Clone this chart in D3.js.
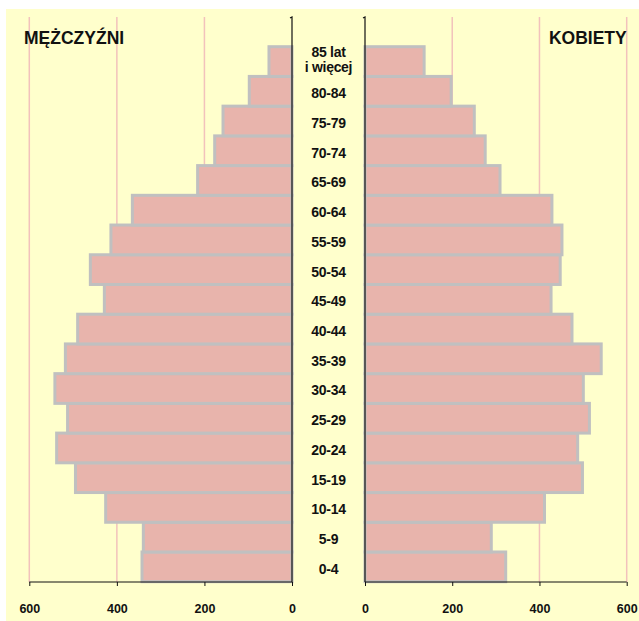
<!DOCTYPE html>
<html>
<head>
<meta charset="utf-8">
<script src="https://cdn.jsdelivr.net/npm/d3@7"></script>
<style>
  body { margin: 0; background: #fff; }
  text { font-family: "Liberation Sans", Arial, sans-serif; font-weight: bold; fill: #111; }
</style>
</head>
<body>
<script>
// age groups, youngest first
var ageGroups = ["0-4", "5-9", "10-14", "15-19", "20-24", "25-29", "30-34", "35-39", "40-44",
                 "45-49", "50-54", "55-59", "60-64", "65-69", "70-74", "75-79", "80-84", "85+"];
var men   = [346, 343, 429, 498, 541, 516, 545, 521, 493, 432, 464, 417, 368, 219, 180, 161, 101, 56];
var women = [326, 293, 415, 502, 491, 518, 504, 545, 478, 430, 451, 455, 432, 313, 279, 254, 201, 139];
var tickValues = [0, 200, 400, 600];
var oldestLabel = ["85 lat", "i więcej"];

var width = 639, height = 621;
var barStroke = 3;

var svg = d3.select("body").append("svg")
    .attr("width", width)
    .attr("height", height);

// yellow panel
svg.append("rect")
    .attr("x", 6).attr("y", 9)
    .attr("width", width - 6).attr("height", height - 9)
    .attr("fill", "#FFFFCC");

var xL = d3.scaleLinear().domain([0, 600]).range([292, 29.3]);
var xR = d3.scaleLinear().domain([0, 600]).range([365, 626.7]);
var y = d3.scaleBand()
    .domain(ageGroups.slice().reverse())
    .range([46.7, 581.7])
    .padding(0);

var axisTop = 17, axisY = 582;

// gridlines
var grid = svg.append("g");
grid.selectAll("line.gl")
    .data(tickValues.filter(function (d) { return d > 0; }))
  .enter().append("line")
    .attr("x1", function (d) { return xL(d); })
    .attr("x2", function (d) { return xL(d); })
    .attr("y1", axisTop).attr("y2", axisY)
    .attr("stroke", "#F2C2BC").attr("stroke-width", 1.5);
grid.selectAll("line.gr")
    .data(tickValues.filter(function (d) { return d > 0; }))
  .enter().append("line")
    .attr("x1", function (d) { return xR(d); })
    .attr("x2", function (d) { return xR(d); })
    .attr("y1", axisTop).attr("y2", axisY)
    .attr("stroke", "#F2C2BC").attr("stroke-width", 1.5);

// bars
var bars = svg.append("g");
bars.selectAll("rect.men")
    .data(ageGroups)
  .enter().append("rect")
    .attr("x", function (d, i) { return xL(men[i]) + barStroke / 2; })
    .attr("y", function (d) { return y(d); })
    .attr("width", function (d, i) { return xL(0) - xL(men[i]) - barStroke / 2; })
    .attr("height", y.bandwidth())
    .attr("fill", "#E8B4AC")
    .attr("stroke", "#C0C0C0")
    .attr("stroke-width", barStroke);
bars.selectAll("rect.women")
    .data(ageGroups)
  .enter().append("rect")
    .attr("x", xR(0))
    .attr("y", function (d) { return y(d); })
    .attr("width", function (d, i) { return xR(women[i]) - xR(0) - barStroke / 2; })
    .attr("height", y.bandwidth())
    .attr("fill", "#E8B4AC")
    .attr("stroke", "#C0C0C0")
    .attr("stroke-width", barStroke);

// axes
var axisL = d3.axisBottom(xL).tickValues(tickValues).tickSize(4).tickPadding(18);
var axisR = d3.axisBottom(xR).tickValues(tickValues).tickSize(4).tickPadding(18);
[axisL, axisR].forEach(function (ax) {
  var g = svg.append("g")
      .attr("transform", "translate(0," + axisY + ")")
      .call(ax);
  g.select(".domain").attr("stroke", "#111").attr("d", null);
  g.selectAll(".tick line").attr("stroke", "#111");
  g.selectAll(".tick text")
      .attr("font-size", 12.5)
      .attr("font-family", "Liberation Sans, Arial, sans-serif")
      .attr("font-weight", "bold")
      .attr("fill", "#111");
});
// baseline of each half
svg.append("line").attr("x1", xL(600)).attr("x2", xL(0))
    .attr("y1", axisY).attr("y2", axisY).attr("stroke", "#111");
svg.append("line").attr("x1", xR(0)).attr("x2", xR(600))
    .attr("y1", axisY).attr("y2", axisY).attr("stroke", "#111");
// vertical axis lines
[xL(0), xR(0)].forEach(function (x) {
  svg.append("path")
      .attr("d", "M" + (x - 2) + "," + (axisTop + 1) + "L" + x + "," + axisTop + "L" + x + "," + axisY)
      .attr("fill", "none").attr("stroke", "#111").attr("stroke-width", 1.2);
});

// category labels
var labelX = (xL(0) + xR(0)) / 2;
svg.append("g").selectAll("text")
    .data(ageGroups.filter(function (d) { return d !== "85+"; }))
  .enter().append("text")
    .attr("x", labelX)
    .attr("y", function (d) { return y(d) + y.bandwidth() / 2 + 2; })
    .attr("dy", "0.35em")
    .attr("text-anchor", "middle")
    .attr("font-size", 14)
    .attr("letter-spacing", -0.3)
    .text(function (d) { return d; });
svg.append("text")
    .attr("x", labelX)
    .attr("y", y("85+") + 10.5)
    .attr("text-anchor", "middle")
    .attr("font-size", 14)
    .attr("letter-spacing", -0.3)
    .selectAll("tspan")
    .data(oldestLabel)
  .enter().append("tspan")
    .attr("x", labelX)
    .attr("dy", function (d, i) { return i === 0 ? 0 : 15; })
    .text(function (d) { return d; });

// titles
svg.append("text")
    .attr("x", 24).attr("y", 44)
    .attr("font-size", 17.5)
    .text("MĘŻCZYŹNI");
svg.append("text")
    .attr("x", 626.7).attr("y", 44)
    .attr("text-anchor", "end")
    .attr("font-size", 17.5)
    .text("KOBIETY");
</script>
</body>
</html>
